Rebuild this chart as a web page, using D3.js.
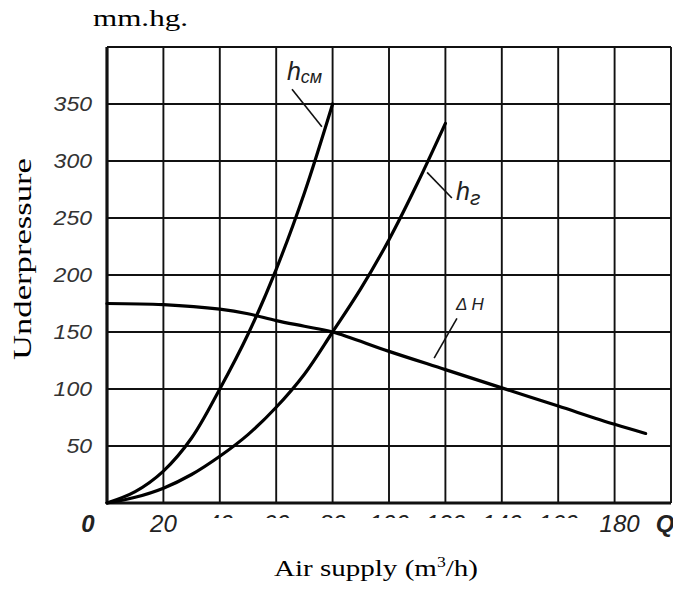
<!DOCTYPE html>
<html><head><meta charset="utf-8">
<script src="https://cdn.jsdelivr.net/npm/d3@7"></script>
<style>body{margin:0;background:#fff}svg{display:block}</style>
</head><body>
<svg id="c" width="673" height="589"></svg>
<script>
// ---- data ----
const xTicks = [0, 20, 40, 60, 80, 100, 120, 140, 160, 180, 200];
const xTickLabels = ["0", "20", "40", "60", "80", "100", "120", "140", "160", "180"];
const yTicks = [0, 50, 100, 150, 200, 250, 300, 350, 400];
const yTickLabels = ["50", "100", "150", "200", "250", "300", "350"];
const hcmQ = [0, 10, 20, 30, 40, 50, 60, 70, 80];
const hcmV = [0, 10, 28, 57, 100, 148, 205, 272, 350];
const hgQ = [0, 10, 20, 30, 40, 50, 60, 70, 80, 90, 100, 110, 120];
const hgV = [0, 5, 13, 25, 41, 60, 84, 113, 150, 188, 231, 280, 333];
const dHQ = [0, 20, 40, 50, 60, 70, 80, 100, 120, 140, 160, 180, 191];
const dHV = [175, 174, 170, 166, 160, 155, 150, 133, 117, 101, 85, 69, 61];

const svg = d3.select("#c");
const x = d3.scaleLinear().domain([0, 200]).range([107, 671]);
const y = d3.scaleLinear().domain([0, 400]).range([503, 47]);

// grid
const g = svg.append("g");
g.selectAll(".vx").data(xTicks).join("line")
  .attr("x1", d => x(d)).attr("x2", d => x(d))
  .attr("y1", y(0)).attr("y2", y(400))
  .attr("stroke", "#111").attr("stroke-width", d => d === 0 ? 3.2 : 1.9);
g.selectAll(".hy").data(yTicks).join("line")
  .attr("x1", x(0)).attr("x2", x(200))
  .attr("y1", d => y(d)).attr("y2", d => y(d))
  .attr("stroke", "#111").attr("stroke-width", d => d === 0 ? 3.2 : 1.9);

// y tick labels
svg.selectAll(".yl").data(yTickLabels).join("text")
  .attr("x", 92).attr("y", d => y(+d) + 7)
  .attr("text-anchor", "end")
  .attr("font-family", "Liberation Sans").attr("font-style", "italic")
  .attr("font-size", 20).attr("fill", "#333")
  .attr("textLength", d => d.length * 12.8).attr("lengthAdjust", "spacingAndGlyphs")
  .text(d => d);

// x tick labels (scan: most are cut off at the bottom)
const defs = svg.append("defs");
defs.append("clipPath").attr("id", "cut").append("rect")
  .attr("x", 0).attr("y", 511).attr("width", 673).attr("height", 7);
const xl = svg.append("g").attr("font-family", "Liberation Sans").attr("font-style", "italic")
  .attr("font-size", 24).attr("fill", "#222");
xl.selectAll("text").data(xTickLabels).join("text")
  .attr("x", (d, i) => i === 0 ? 88 : x(+d) + (i === 9 ? 5 : 0))
  .attr("y", 532)
  .attr("text-anchor", "middle")
  .attr("font-weight", (d, i) => i === 0 ? "bold" : null)
  .attr("clip-path", (d, i) => (i >= 2 && i <= 8) ? "url(#cut)" : null)
  .text(d => d);
xl.append("text").attr("x", 665).attr("y", 532).attr("text-anchor", "middle")
  .attr("font-weight", "bold").text("Q");

// curves
const line = d3.line().x(d => x(d[0])).y(d => y(d[1])).curve(d3.curveCatmullRom.alpha(0.5));
const series = [d3.zip(hcmQ, hcmV), d3.zip(hgQ, hgV), d3.zip(dHQ, dHV)];
svg.selectAll(".crv").data(series).join("path")
  .attr("d", line).attr("fill", "none").attr("stroke", "#000")
  .attr("stroke-width", 3.2).attr("stroke-linecap", "round");

// leader lines
const leaders = [[65.6, 363, 76.2, 330], [113.5, 290, 122.3, 267.5], [124.1, 162, 116, 127]];
svg.selectAll(".ld").data(leaders).join("line")
  .attr("x1", d => x(d[0])).attr("y1", d => y(d[1]))
  .attr("x2", d => x(d[2])).attr("y2", d => y(d[3]))
  .attr("stroke", "#111").attr("stroke-width", 1.6);

// curve labels
const lab = svg.append("g").attr("font-family", "Liberation Sans").attr("font-style", "italic").attr("fill", "#222");
const t1 = lab.append("text").attr("x", x(63.8)).attr("y", y(371)).attr("font-size", 25);
t1.append("tspan").text("h");
t1.append("tspan").attr("font-size", 18).attr("dy", 3).text("см");
const t2 = lab.append("text").attr("x", x(123.8)).attr("y", y(266)).attr("font-size", 25);
t2.append("tspan").text("h");
t2.append("tspan").attr("font-size", 21).attr("dy", 5).text("г");
lab.append("text").attr("x", x(123.8)).attr("y", y(169)).attr("font-size", 17).text("Δ H");

// axis titles
const serif = "Liberation Serif, Times New Roman, serif";
svg.append("text").attr("x", 93).attr("y", 26).attr("font-family", serif).attr("font-size", 24)
  .attr("textLength", 95).attr("lengthAdjust", "spacingAndGlyphs").text("mm.hg.");
svg.append("text").attr("transform", "translate(31,259) rotate(-90)").attr("text-anchor", "middle")
  .attr("font-family", serif).attr("font-size", 26)
  .attr("textLength", 202).attr("lengthAdjust", "spacingAndGlyphs").text("Underpressure");
const at = svg.append("text").attr("x", 274).attr("y", 576).attr("font-family", serif).attr("font-size", 23)
  .attr("textLength", 204).attr("lengthAdjust", "spacingAndGlyphs");
at.append("tspan").text("Air supply (m");
at.append("tspan").attr("font-size", 14).attr("dy", -9).text("3");
at.append("tspan").attr("dy", 9).text("/h)");
</script>
</body></html>
